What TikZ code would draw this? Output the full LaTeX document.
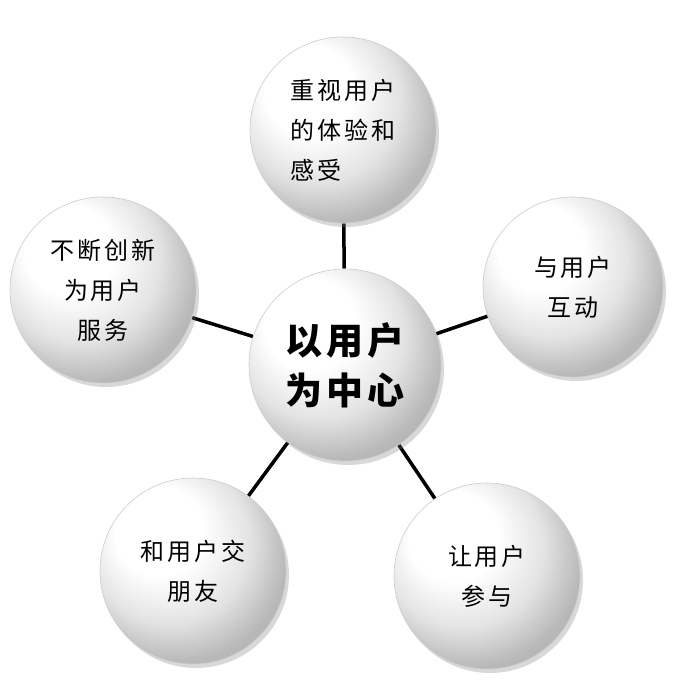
\documentclass[tikz,border=0pt]{standalone}
\usepackage{fontspec}
\newfontfamily\cjk[LetterSpace=12]{Noto Sans CJK SC}
\usetikzlibrary{shadows,backgrounds}
\pgfdeclareradialshading{ballsh}{\pgfpoint{-12bp}{14bp}}{%
 color(0bp)=(white); color(12bp)=(white); color(22bp)=(gray!22); color(30bp)=(gray!55); color(36bp)=(gray!65); color(50bp)=(gray!65)}
\begin{document}
\begin{tikzpicture}[x=1pt,y=-1pt,
 ball/.style={circle,minimum size=#1,inner sep=0pt,draw=gray!40,line width=0.6pt,
   shading=ballsh,
   drop shadow={shadow xshift=3pt,shadow yshift=-4pt,opacity=0.3,fill=gray},
   font=\cjk\fontsize{24}{40}\selectfont},
 link/.style={line width=3.5pt,black}]
\useasboundingbox (0,0) rectangle (680,680);
\node[ball=186pt,align=left] (t) at (343,130) {重视用户\\的体验和\\感受};
\node[ball=180pt,align=center] (r) at (573,287) {与用户\\互动};
\node[ball=186pt,align=center] (br) at (487,576) {让用户\\参与};
\node[ball=186pt,align=center] (bl) at (193,571) {和用户交\\朋友};
\node[ball=186pt,align=center] (l) at (103,290) {不断创新\\为用户\\服务};
\node[ball=192pt,align=center,font=\cjk\bfseries\fontsize{37}{50}\selectfont] (c) at (345,365) {以用户\\为中心};
\begin{scope}[on background layer]
\fill[white] (0,0) rectangle (680,680);
\foreach \n in {t,r,br,bl,l} \draw[link] (c) -- (\n);
\end{scope}
\end{tikzpicture}
\end{document}
